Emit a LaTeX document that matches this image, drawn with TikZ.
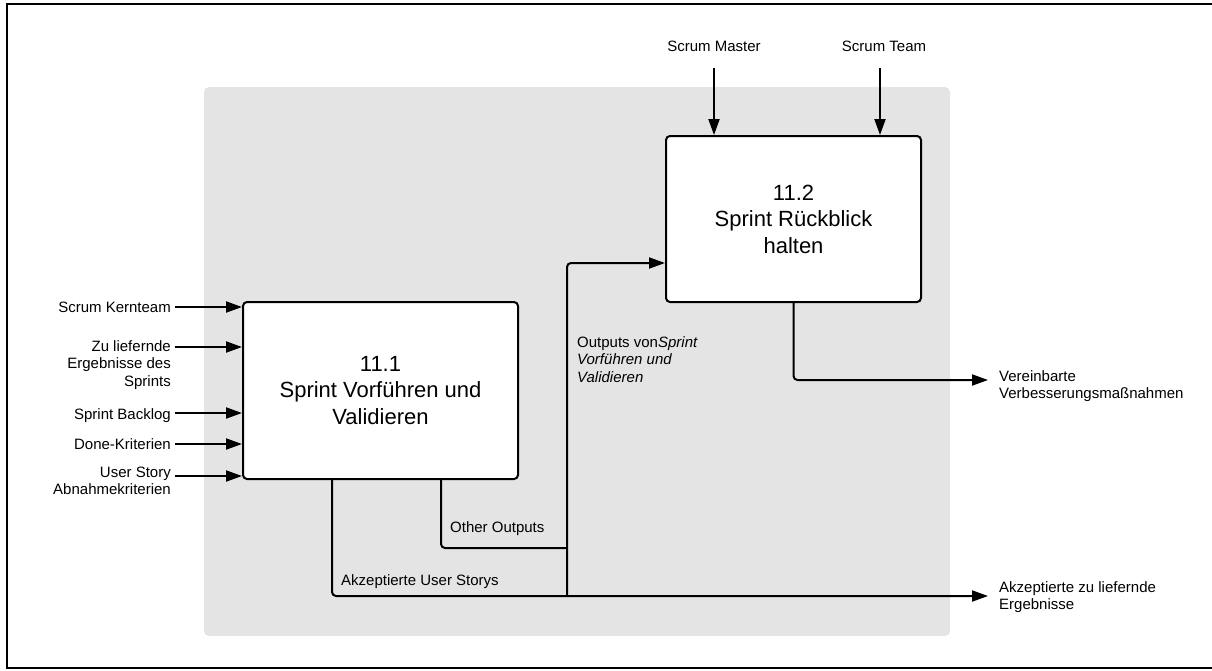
\documentclass[tikz,border=0pt]{standalone}
\usepackage{fontspec}
\setmainfont{Liberation Sans}
\usetikzlibrary{arrows.meta}
\definecolor{bggrey}{HTML}{E4E4E4}
\newcommand\rlines[1]{\begin{tabular}[t]{@{}r@{}}#1\end{tabular}}
\newcommand\llines[1]{\begin{tabular}[t]{@{}l@{}}#1\end{tabular}}
\tikzset{
  procbox/.style={draw, fill=white, line width=2pt, rounded corners=4pt, inner sep=0pt,
    align=center, font=\fontsize{22}{26.5}\selectfont},
  lbl/.style={inner sep=0pt, font=\fontsize{15}{17.6}\selectfont},
  conn/.style={line width=2pt, rounded corners=4pt},
  arr/.style={conn, -{Triangle[length=16pt,width=11pt]}},
}
\begin{document}
\begin{tikzpicture}[x=1pt,y=-1pt]
\useasboundingbox (0,0) rectangle (1212,670);
\draw[line width=2.5pt] (7,4) rectangle (1213,668);
\fill[bggrey, rounded corners=5pt] (204,87) rectangle (950,636);

% process boxes
\node[procbox, minimum width=275pt, minimum height=177pt] (b1) at (380.5,390.5)
  {11.1\\Sprint Vorführen und\\Validieren};
\node[procbox, minimum width=255pt, minimum height=166pt] (b2) at (793.5,219)
  {11.2\\Sprint Rückblick\\halten};

% left inputs
\coordinate (s1) at (175,307);
\coordinate (s2) at (175,347);
\coordinate (s3) at (175,413);
\coordinate (s4) at (175,444);
\coordinate (s5) at (175,476);
\node[lbl, anchor=base east] (l1) at (171,312) {Scrum Kernteam};
\node[lbl, anchor=base east] (l2) at (171,351) {\rlines{Zu liefernde\\Ergebnisse des\\Sprints}};
\node[lbl, anchor=base east] (l3) at (171,419) {Sprint Backlog};
\node[lbl, anchor=base east] (l4) at (171,449) {Done-Kriterien};
\node[lbl, anchor=base east] (l5) at (171,477) {\rlines{User Story\\Abnahmekriterien}};
\draw[arr] (s1) -- (s1 -| b1.west);
\draw[arr] (s2) -- (s2 -| b1.west);
\draw[arr] (s3) -- (s3 -| b1.west);
\draw[arr] (s4) -- (s4 -| b1.west);
\draw[arr] (s5) -- (s5 -| b1.west);

% top inputs
\node[lbl, anchor=base] (tm) at (714,51) {Scrum Master};
\node[lbl, anchor=base] (tt) at (884,51) {Scrum Team};
\coordinate (sm) at (714,68);
\coordinate (st) at (880,68);
\draw[arr] (sm) -- (sm |- b2.north);
\draw[arr] (st) -- (st |- b2.north);

% outputs of 11.1
\coordinate (p1) at (332,596);
\coordinate (p2) at (441,548);
\coordinate (j) at (567,548);
\coordinate (jb) at (567,596);
\coordinate (jt) at (567,263);
\coordinate (acc) at (988,596);
\draw[arr] (p1 |- b1.south) -- (p1) -- (acc);
\draw[conn] (p2 |- b1.south) -- (p2) -- (j);
\draw[arr] (jb) -- (jt) -- (jt -| b2.west);
\node[lbl, anchor=base west] (la) at (341,585) {Akzeptierte User Storys};
\node[lbl, anchor=base west] (lo) at (450,532) {Other Outputs};
\node[lbl, anchor=base west] (lv) at (577,347)
  {\llines{Outputs von\textit{Sprint}\\\textit{Vorführen und}\\\textit{Validieren}}};

% output of 11.2
\coordinate (o1) at (988,380);
\draw[arr] (b2.south) |- (o1);
\node[lbl, anchor=base west] (r1) at (999,381) {\llines{Vereinbarte\\Verbesserungsmaßnahmen}};
\node[lbl, anchor=base west] (r2) at (999,592) {\llines{Akzeptierte zu liefernde\\Ergebnisse}};
\end{tikzpicture}
\end{document}
